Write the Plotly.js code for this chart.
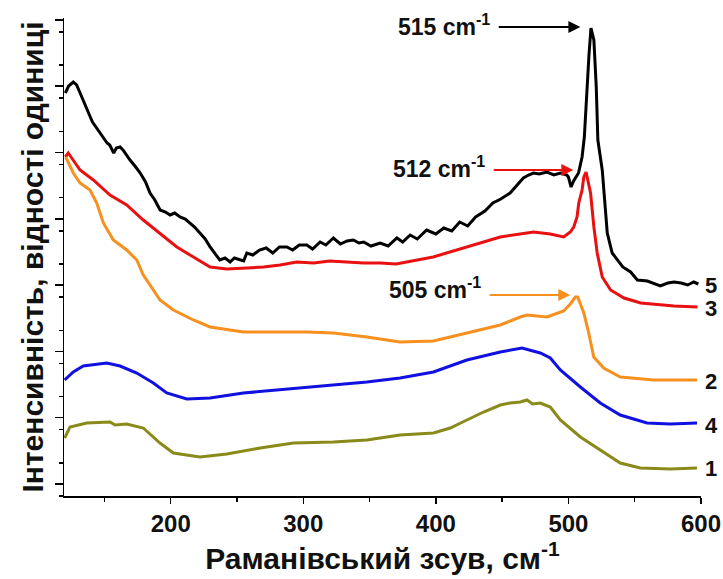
<!DOCTYPE html>
<html>
<head>
<meta charset="utf-8">
<script src="https://cdn.plot.ly/plotly-3.0.1.min.js"></script>
<style>html,body{margin:0;padding:0;background:#fff;}#chart{width:723px;height:579px;}</style>
</head>
<body>
<div id="chart"></div>
<script>
// Raman shift (cm-1) and intensity (arbitrary units, offset curves)
const x5 = [120.5,123,126.5,129,131,134,136.6,139,141,144,146.7,150,152,154,157,159,161.8,164,166,169.3,173,177,181,184.4,188,192,196,199.5,203,207,211,214.6,218,222,226,229.7,233,237,241,244.8,248,252,255,257.4,262,267,272,277,282,287.6,292,297,302.7,307,312.7,317,322.7,328,333,337.8,342,345.6,351,358,364,370.6,375,380.6,386,393,400,406,412,418,424,430,437,443,449,456,461,466,470,473.5,478,483.8,489,494,498.8,500,502,503.9,507.6,510.3,512,513.5,515.5,517,519.2,521,522.2,525.5,529.3,533,536.8,541,546.9,552,559.5,564,569.3,575,579.7,585,590,594.5,598];
const y5 = [403,410,414,411,405,395,386,380,374,368,363,357,353,351,343,348,349,346,342,336,330,323,314,303,296,286,284,281,283,279,277,273,269,263,257,249,243,236,238,234,238,236,235,243,241,246,248,243,249,249,246,251,251,247,254,251,258,252,255,256,253,254,250,253,250,258,254,261,257,266,262,268,265,274,270,279,285,293,297,303,310,318,321,323,322,324,321,323,321,319,309,315,323,339,359,396,441,468,456,409,356,326,263,243,236,229,224,216,215,213,210,213,214,213,211,214,212,214,216];

const x3 = [120.5,122.7,131.6,141.6,154.2,166.8,179.3,191.9,204.6,217.1,229.7,242.3,252.3,257.4,270,282.5,295,307.7,320,332.9,345.4,358,370,398,423.4,448.6,473.7,486.3,496.4,501.4,504,506.5,507.8,510.3,511.6,513.3,516.7,519.2,521.7,525.5,531.8,541.9,554.5,579.7,597.4];
const y3 = [339,343,326,316,301,291,276,263,249,239,229,227,228,228,229,231,234,233,235,234,233,233,232,239,249,259,264,262,259,264,269,279,293,306,319,324,303,269,243,219,206,198,193,190,189];

const x2 = [120.8,126.5,131.6,139.1,144.2,149.2,156.7,166.8,174.4,179.3,184.4,191.9,202,217.1,229.7,254.8,280,302.7,322.7,348,373,398.2,423.4,448.6,463.7,468.7,483.8,496.4,501.4,505.2,507,511.6,515.3,519.1,526.6,539.1,564.3,597];
const y2 = [339,323,313,306,293,273,256,246,236,221,211,196,186,176,169,164,164,164,163,159,154,155,163,171,179,181,179,185,192,199,199,183,163,139,128,119,116,116];

const x4 = [120,126.5,134,151.7,161.8,174.4,186.9,197,212.1,229.7,254.8,280,297.6,322.7,348,373,398.2,423.4,448.6,465,478.8,486.3,493.9,509,524,539.1,559.3,576.8,597];
const y4 = [116,124,130,133,130,123,113,103,97,98,103,106,108,111,114,118,124,136,144,148,143,138,126,109,93,81,73,72,73];

const x1 = [120,124,136.6,154.2,158,166.8,179.3,191.9,202,222.1,242.3,267.5,292.6,322.7,348,373,398.2,410.8,423.4,436,448.6,456,463.7,468.7,473,478.8,486.3,493.9,509,524,539.1,554.2,576.8,597];
const y1 = [58,69,73,74,71,72,68,53,43,39,42,48,53,54,56,61,63,68,76,84,91,93,94,96,92,93,89,76,59,46,33,28,27,28];

const curveNames = ['5','3','2','4','1'];
const curveColors = ['#000000','#e81010','#f7901e','#1010e0','#8a8a1a'];
const curveLabelY = [211,188,115,71,28];

const peakLabels = ['515 cm<sup>-1</sup>','512 cm<sup>-1</sup>','505 cm<sup>-1</sup>'];
const peakTextY = [471,329,208];
const peakArrowTail = [446.3,442.5,439.5];
const peakArrowTip = [509,503.7,501.4];
const peakArrowY = [469,326,201];
const peakColors = ['#000000','#e81010','#f7901e'];

const xs = [x5,x3,x2,x4,x1];
const ys = [y5,y3,y2,y4,y1];

const F = 'Liberation Sans, Arial, sans-serif';
const traces = xs.map((xx,i)=>({
  x: xx, y: ys[i], type:'scatter', mode:'lines', name: curveNames[i],
  line:{color:curveColors[i], width:3}, hoverinfo:'skip'
}));

const annotations = [];
curveNames.forEach((n,i)=>{
  annotations.push({xref:'paper', yref:'y', x:1.003, y:curveLabelY[i], text:n, showarrow:false,
    xanchor:'left', yanchor:'middle', font:{family:F, size:22, color:'#111', weight:'bold'}});
});
peakLabels.forEach((t,i)=>{
  annotations.push({xref:'x', yref:'y', x:peakArrowTail[i]-4, y:peakTextY[i], text:t, showarrow:false,
    xanchor:'right', yanchor:'middle', font:{family:F, size:23, color:'#111', weight:'bold'}});
  annotations.push({xref:'x', yref:'y', axref:'x', ayref:'y', x:peakArrowTip[i], y:peakArrowY[i],
    ax:peakArrowTail[i], ay:peakArrowY[i], text:'', showarrow:true, arrowhead:2, arrowsize:1.2,
    arrowwidth:2, arrowcolor:peakColors[i]});
});

const layout = {
  width:723, height:579,
  margin:{l:64, r:22.3, t:18, b:83},
  paper_bgcolor:'#fff', plot_bgcolor:'#fff',
  showlegend:false,
  xaxis:{
    range:[119.5,600], showgrid:false, zeroline:false,
    showline:true, linecolor:'#000', linewidth:1.5,
    ticks:'outside', ticklen:6, tickwidth:1.5, tickcolor:'#000',
    tick0:0, dtick:100,
    minor:{dtick:50, ticks:'outside', ticklen:4, tickwidth:1.5, tickcolor:'#000'},
    tickfont:{family:F, size:24, color:'#111', weight:'bold'},
    title:{text:'Раманівський зсув, см<sup>-1</sup>', standoff:8, font:{family:F, size:30, color:'#111', weight:'bold'}}
  },
  yaxis:{
    range:[0,478], showgrid:false, zeroline:false,
    showline:true, linecolor:'#000', linewidth:1.5,
    ticks:'outside', ticklen:8, tickwidth:1.5, tickcolor:'#000',
    tick0:12, dtick:66.3, showticklabels:false,
    minor:{dtick:33.15, ticks:'outside', ticklen:4, tickwidth:1.5, tickcolor:'#000'},
    title:{text:'Інтенсивність, відності одиниці', standoff:2, font:{family:F, size:30, color:'#111', weight:'bold'}}
  },
  annotations: annotations
};

Plotly.newPlot('chart', traces, layout, {staticPlot:true, displayModeBar:false});
</script>
</body>
</html>
